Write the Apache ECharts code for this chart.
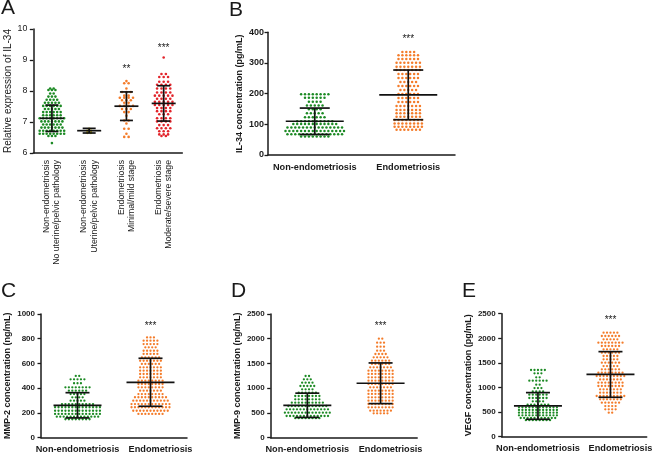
<!DOCTYPE html>
<html><head><meta charset="utf-8">
<script src="https://cdn.jsdelivr.net/npm/echarts@6/dist/echarts.min.js"></script>
<style>html,body{margin:0;padding:0;background:#fff}#c{width:655px;height:454px}</style>
</head><body><div id="c"></div>
<script>
// ---------------- DATA ----------------
// Each group is listed as rows of the dot plot: [value, number of dots in that row]
const catsA = ['Non-endometriosis\nNo uterine/pelvic pathology', 'Non-endometriosis\nUterine/pelvic pathology', 'Endometriosis\nMinimal/mild stage', 'Endometriosis\nModerate/severe stage'];
const catsBE = ['Non-endometriosis', 'Endometriosis'];

const A_noPathology = [[8.08,2],[8.03,3],[7.92,2],[7.82,3],[7.72,4],[7.62,5],[7.52,6],[7.42,5],[7.32,6],[7.22,6],[7.12,8],[7.02,7],[6.92,6],[6.82,7],[6.72,8],[6.62,8],[6.55,3],[6.32,1]];
const A_pathology = [[6.78,1],[6.72,2],[6.65,2]];
const A_mild = [[8.32,1],[8.25,2],[8.08,1],[7.97,3],[7.85,2],[7.78,4],[7.7,3],[7.62,2],[7.52,4],[7.42,3],[7.32,2],[7.2,1],[7.05,2],[6.95,1],[6.78,2],[6.62,1],[6.52,2]];
const A_severe = [[9.08,1],[8.55,2],[8.45,3],[8.3,3],[8.2,4],[8.08,4],[7.95,4],[7.85,5],[7.75,4],[7.65,5],[7.55,5],[7.45,4],[7.35,4],[7.25,3],[7.12,4],[7.02,4],[6.9,3],[6.8,4],[6.7,3],[6.6,3],[6.55,2]];
const meansA = [7.12, 6.72, 7.51, 7.6];
const sdsA = [0.425, 0.075, 0.46, 0.57];
const sigTextA = ['', '', '**', '***'];
const sigYA = [null, null, 8.7, 9.38];

const B_non = [[198,8],[187,6],[174,4],[161,5],[149,4],[136,5],[123,6],[110,10],[101,12],[90,15],[78,16],[68,15],[60,8]];
const B_endo = [[336,4],[325,6],[313,6],[301,7],[288,7],[277,7],[264,6],[251,6],[238,5],[225,6],[212,5],[199,6],[186,6],[173,6],[160,7],[147,7],[136,7],[125,7],[114,8],[103,8],[92,8],[82,7]];
const meansB = [110, 196];
const sdsB = [43, 81];
const sigTextB = ['', '***'];
const sigYB = [null, 378];

const C_non = [[499,2],[472,5],[440,3],[407,8],[380,6],[353,5],[326,4],[299,5],[272,10],[246,14],[218,14],[192,14],[170,13],[149,8]];
const C_endo = [[811,3],[784,5],[757,5],[731,4],[703,5],[677,5],[650,6],[622,7],[596,6],[569,7],[542,7],[515,7],[488,7],[461,8],[434,8],[407,8],[380,7],[353,8],[327,10],[299,11],[272,12],[246,12],[218,11],[192,8]];
const meansC = [262, 448];
const sdsC = [102, 194];
const sigTextC = ['', '***'];
const sigYC = [null, 905];

const D_non = [[1247,2],[1180,3],[1112,4],[1045,5],[978,4],[909,6],[843,8],[776,8],[707,10],[641,12],[574,13],[505,14],[439,13],[395,8]];
const D_endo = [[2001,2],[1921,3],[1840,3],[1759,3],[1692,4],[1625,5],[1557,6],[1490,6],[1422,7],[1355,8],[1288,8],[1220,8],[1153,8],[1086,8],[1018,7],[951,8],[884,8],[816,8],[749,8],[681,8],[614,8],[547,7],[493,5]];
const meansD = [655, 1100];
const sdsD = [245, 411];
const sigTextD = ['', '***'];
const sigYD = [null, 2250];

const E_non = [[1356,5],[1288,3],[1207,2],[1139,6],[1057,2],[989,3],[922,4],[854,6],[787,6],[719,4],[651,7],[597,12],[543,12],[488,12],[434,12],[380,11],[335,8]];
const E_endo = [[2115,5],[2047,6],[1980,5],[1911,8],[1843,6],[1776,5],[1708,6],[1640,5],[1572,5],[1504,6],[1436,5],[1369,6],[1301,8],[1233,9],[1165,7],[1098,8],[1030,8],[962,7],[894,7],[827,9],[759,7],[691,6],[623,4],[556,4],[488,2]];
const meansE = [625, 1265];
const sdsE = [271, 464];
const sigTextE = ['', '***'];
const sigYE = [null, 2370];

const yTicksA = [6, 10, 1];
const yTicksB = [0, 400, 100];
const yTicksC = [0, 1000, 200];
const yTicksD = [0, 2500, 500];
const yTicksE = [0, 2500, 500];

// ---------------- STYLE / LAYOUT ----------------
const FONT = '"Liberation Sans", Arial, sans-serif';
const GREEN = '#1c8a24', YELLOW = '#c8b61c', ORANGE = '#f47c2a', RED = '#e2232a';
const INK = '#1a1a1a';

const panels = [
  { letter:'A', lx:1, ly:-2, grid:{left:33.3, top:29, width:149, height:124}, cats:catsA, shiftLast:0, groups:[A_noPathology, A_pathology, A_mild, A_severe], colors:[GREEN, YELLOW, ORANGE, RED], means:meansA, sds:sdsA, sigT:sigTextA, sigY:sigYA, ticks:yTicksA, name:'Relative expression of IL-34', nameBold:false, nameGap:17, labelSize:8.8, labelBold:false, labelMargin:6, xlab:{rotate:90, fontSize:8.7, fontWeight:'normal', lineHeight:10.3, margin:7}, d:[3.5, 3.5, 4.4, 4.4], r:1.3, mw:12, cw:6.5 },
  { letter:'B', lx:229, ly:0, grid:{left:268, top:32.3, width:187, height:122.7}, cats:catsBE, shiftLast:0, groups:[B_non, B_endo], colors:[GREEN, ORANGE], means:meansB, sds:sdsB, sigT:sigTextB, sigY:sigYB, ticks:yTicksB, name:'IL-34 concentration (pg/mL)', nameBold:true, nameGap:24, labelSize:9, labelBold:true, labelMargin:4, xlab:{rotate:0, fontSize:9.2, fontWeight:'bold', margin:8}, d:[3.9, 3.9], r:1.25, mw:29, cw:15 },
  { letter:'C', lx:1, ly:281, grid:{left:41, top:314, width:146, height:123.7}, cats:catsBE, shiftLast:20, groups:[C_non, C_endo], colors:[GREEN, ORANGE], means:meansC, sds:sdsC, sigT:sigTextC, sigY:sigYC, ticks:yTicksC, name:'MMP-2 concentration (ng/mL)', nameBold:true, nameGap:29, labelSize:8, labelBold:true, labelMargin:6, xlab:{rotate:0, fontSize:9.2, fontWeight:'bold', margin:7}, d:[3.45, 3.45], r:1.15, mw:24, cw:12 },
  { letter:'D', lx:231, ly:281, grid:{left:270.7, top:314, width:146.5, height:123.7}, cats:catsBE, shiftLast:20, groups:[D_non, D_endo], colors:[GREEN, ORANGE], means:meansD, sds:sdsD, sigT:sigTextD, sigY:sigYD, ticks:yTicksD, name:'MMP-9 concentration (ng/mL)', nameBold:true, nameGap:29, labelSize:8, labelBold:true, labelMargin:6, xlab:{rotate:0, fontSize:9.2, fontWeight:'bold', margin:7}, d:[3.45, 3.45], r:1.15, mw:24, cw:12 },
  { letter:'E', lx:462, ly:281, grid:{left:501.7, top:313.7, width:146.5, height:123}, cats:catsBE, shiftLast:20, groups:[E_non, E_endo], colors:[GREEN, ORANGE], means:meansE, sds:sdsE, sigT:sigTextE, sigY:sigYE, ticks:yTicksE, name:'VEGF concentration (pg/mL)', nameBold:true, nameGap:29, labelSize:8, labelBold:true, labelMargin:6, xlab:{rotate:0, fontSize:9.2, fontWeight:'bold', margin:7}, d:[3.45, 3.45], r:1.15, mw:24, cw:12 }
];

const option = { animation:false, backgroundColor:'#fff', title:[], grid:[], xAxis:[], yAxis:[], series:[] };

panels.forEach((p, i) => {
  option.title.push({ text:p.letter, left:p.lx, top:p.ly, padding:0, textStyle:{ fontFamily:FONT, fontSize:21, fontWeight:'normal', color:INK, lineHeight:21 } });
  option.grid.push(Object.assign({ containLabel:false }, p.grid));
  const catData = p.cats.map((c, k) => (k === p.cats.length - 1 && p.shiftLast) ? { value:c, textStyle:{ padding:[0, 0, 0, p.shiftLast] } } : c);
  option.xAxis.push({
    type:'category', gridIndex:i, data:catData, boundaryGap:true,
    axisLine:{ lineStyle:{ color:INK, width:1.5 } },
    axisTick:{ alignWithLabel:true, length:4, lineStyle:{ color:INK, width:1.3 } },
    axisLabel:{ interval:0, rotate:p.xlab.rotate, fontSize:p.xlab.fontSize, fontWeight:p.xlab.fontWeight, fontFamily:FONT, color:INK, margin:p.xlab.margin, lineHeight:p.xlab.lineHeight },
    splitLine:{ show:false }
  });
  option.yAxis.push({
    type:'value', gridIndex:i, min:p.ticks[0], max:p.ticks[1], interval:p.ticks[2],
    name:p.name, nameLocation:'middle', nameGap:p.nameGap, nameRotate:90,
    nameTextStyle:{ fontFamily:FONT, fontSize:p.nameBold ? 9 : 10, fontWeight:p.nameBold ? 'bold' : 'normal', color:INK },
    axisLine:{ show:true, lineStyle:{ color:INK, width:1.5 } },
    axisTick:{ show:true, length:3.5, lineStyle:{ color:INK, width:1.3 } },
    axisLabel:{ fontFamily:FONT, fontSize:p.labelSize, fontWeight:p.labelBold ? 'bold' : 'normal', color:INK, margin:p.labelMargin, formatter:v => String(v) },
    splitLine:{ show:false }
  });
  // dots
  p.groups.forEach((rows, g) => {
    const data = [];
    rows.forEach(([v, n]) => {
      for (let j = 0; j < n; j++) data.push([p.cats[g], v, (j - (n - 1) / 2) * p.d[g]]);
    });
    option.series.push({
      type:'custom', xAxisIndex:i, yAxisIndex:i, encode:{ x:0, y:1 }, data,
      renderItem:(params, api) => {
        const c = api.coord([api.value(0), api.value(1)]);
        return { type:'circle', shape:{ cx:c[0] + api.value(2), cy:c[1], r:p.r }, style:{ fill:p.colors[g] } };
      }
    });
  });
  // mean ± SD
  option.series.push({
    type:'custom', xAxisIndex:i, yAxisIndex:i, encode:{ x:0, y:1 }, z:5,
    data:p.cats.map((c, k) => [c, p.means[k], p.sds[k]]),
    renderItem:(params, api) => {
      const x = api.value(0), m = api.value(1), s = api.value(2);
      const pm = api.coord([x, m]), pt = api.coord([x, m + s]), pb = api.coord([x, m - s]);
      const st = { stroke:'#111', lineWidth:1.7 };
      return { type:'group', children:[
        { type:'line', shape:{ x1:pm[0] - p.mw, y1:pm[1], x2:pm[0] + p.mw, y2:pm[1] }, style:st },
        { type:'line', shape:{ x1:pt[0], y1:pt[1], x2:pb[0], y2:pb[1] }, style:st },
        { type:'line', shape:{ x1:pt[0] - p.cw, y1:pt[1], x2:pt[0] + p.cw, y2:pt[1] }, style:st },
        { type:'line', shape:{ x1:pb[0] - p.cw, y1:pb[1], x2:pb[0] + p.cw, y2:pb[1] }, style:st }
      ]};
    }
  });
  // significance stars
  const sig = [];
  p.sigT.forEach((t, k) => { if (t) sig.push([p.cats[k], p.sigY[k], k]); });
  option.series.push({
    type:'custom', xAxisIndex:i, yAxisIndex:i, encode:{ x:0, y:1 }, z:6, data:sig,
    renderItem:(params, api) => {
      const c = api.coord([api.value(0), api.value(1)]);
      return { type:'text', x:c[0], y:c[1], style:{ text:p.sigT[sig[params.dataIndex][2]], fontFamily:FONT, fontSize:10, fill:INK, align:'center', verticalAlign:'middle' } };
    }
  });
});

const chart = echarts.init(document.getElementById('c'), null, { renderer:'canvas', width:655, height:454 });
chart.setOption(option);
</script></body></html>
